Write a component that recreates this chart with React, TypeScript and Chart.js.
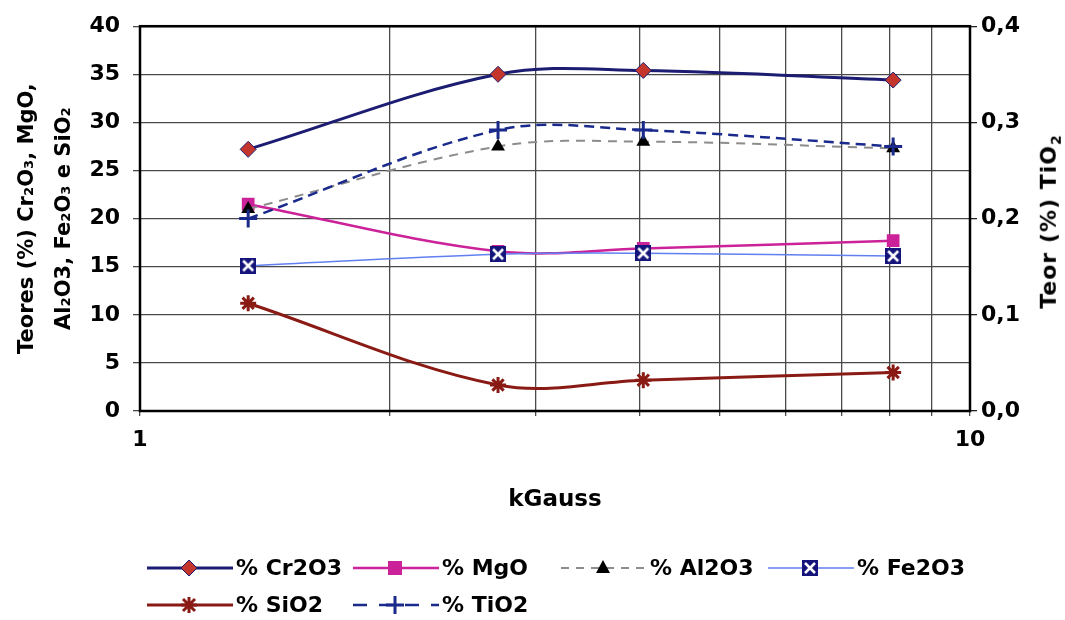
import React, { useEffect, useRef } from "react";
import { Chart, registerables } from "chart.js";

Chart.register(...registerables);

// ---- data ----
const kGauss = [1.35, 2.7, 4.04, 8.08];
const cr2o3 = [27.2, 35.0, 35.4, 34.4];
const mgo = [21.5, 16.6, 16.9, 17.7];
const al2o3 = [21.0, 27.5, 28.0, 27.3];
const fe2o3 = [15.1, 16.3, 16.4, 16.1];
const sio2 = [11.2, 2.7, 3.2, 4.0];
const tio2 = [0.2, 0.292, 0.292, 0.275];

const xTickValues = [1, 10];
const xTickLabels = ["1", "10"];
const rightTickLabels = ["0,0", "0,1", "0,2", "0,3", "0,4"];
const seriesNames = ["% Cr2O3", "% MgO", "% Al2O3", "% Fe2O3", "% SiO2", "% TiO2"];

const FAMILY = "'DejaVu Sans', 'Liberation Sans', sans-serif";

const C_CR_LINE = "#1c1c72";
const C_CR_MARK = "#c4362c";
const C_MG = "#cc2299";
const C_AL_LINE = "#8c8c8c";
const C_AL_MARK = "#000000";
const C_FE_LINE = "#6080f0";
const C_FE_MARK = "#14147a";
const C_SI = "#8a1a14";
const C_TI = "#1a2a8c";
const C_GRID = "#4a4a4a";

function makeXSquare(): HTMLCanvasElement {
  const c = document.createElement("canvas");
  c.width = 16;
  c.height = 16;
  const g = c.getContext("2d")!;
  g.fillStyle = C_FE_MARK;
  g.fillRect(0, 0, 16, 16);
  g.strokeStyle = "#ffffff";
  g.lineWidth = 2.6;
  g.beginPath();
  g.moveTo(3, 3);
  g.lineTo(13, 13);
  g.moveTo(13, 3);
  g.lineTo(3, 13);
  g.stroke();
  return c;
}

const framePlugin = {
  id: "frame",
  beforeDatasetsDraw(chart: any) {
    const { ctx, chartArea: a } = chart;
    ctx.save();
    ctx.strokeStyle = "#000";
    ctx.lineWidth = 2.5;
    ctx.strokeRect(a.left, a.top, a.right - a.left, a.bottom - a.top);
    ctx.restore();
  },
};

function Marker({ kind }: { kind: string }) {
  const cx = 42;
  const cy = 12;
  switch (kind) {
    case "diamond":
      return <polygon points={`${cx},${cy - 8} ${cx + 8},${cy} ${cx},${cy + 8} ${cx - 8},${cy}`} fill={C_CR_MARK} stroke={C_CR_LINE} strokeWidth={1} />;
    case "square":
      return <rect x={cx - 7} y={cy - 7} width={14} height={14} fill={C_MG} />;
    case "triangle":
      return <polygon points={`${cx},${cy - 8} ${cx + 7},${cy + 5} ${cx - 7},${cy + 5}`} fill={C_AL_MARK} />;
    case "xsquare":
      return (
        <g>
          <rect x={cx - 8} y={cy - 8} width={16} height={16} fill={C_FE_MARK} />
          <path d={`M${cx - 5} ${cy - 5} L${cx + 5} ${cy + 5} M${cx + 5} ${cy - 5} L${cx - 5} ${cy + 5}`} stroke="#fff" strokeWidth={2.6} />
        </g>
      );
    case "star":
      return (
        <path
          d={`M${cx} ${cy - 8} L${cx} ${cy + 8} M${cx - 8} ${cy} L${cx + 8} ${cy} M${cx - 6} ${cy - 6} L${cx + 6} ${cy + 6} M${cx + 6} ${cy - 6} L${cx - 6} ${cy + 6}`}
          stroke={C_SI}
          strokeWidth={3}
        />
      );
    case "plus":
      return <path d={`M${cx} ${cy - 9} L${cx} ${cy + 9} M${cx - 9} ${cy} L${cx + 9} ${cy}`} stroke={C_TI} strokeWidth={3} />;
    default:
      return null;
  }
}

function LegendItem({ left, top, color, width, dash, marker, label }: any) {
  return (
    <div style={{ position: "absolute", left, top, display: "flex", alignItems: "center", whiteSpace: "nowrap" }}>
      <svg width={86} height={24} style={{ display: "block" }}>
        <line x1={0} y1={12} x2={86} y2={12} stroke={color} strokeWidth={width} strokeDasharray={dash} />
        <Marker kind={marker} />
      </svg>
      <span style={{ marginLeft: 3, font: `bold 22px ${FAMILY}`, color: "#000", lineHeight: "24px" }}>{label}</span>
    </div>
  );
}

export default function App() {
  const ref = useRef<HTMLCanvasElement | null>(null);

  useEffect(() => {
    if (!ref.current) return;
    const xsq = makeXSquare();
    const pts = (ys: number[]) => kGauss.map((x, i) => ({ x, y: ys[i] }));
    const tickFont = { family: FAMILY, size: 22, weight: "bold" as const };

    const chart = new Chart(ref.current, {
      type: "line",
      data: {
        datasets: [
          {
            label: seriesNames[0],
            data: pts(cr2o3),
            borderColor: C_CR_LINE,
            borderWidth: 3,
            pointStyle: "rectRot",
            pointRadius: 8,
            pointBackgroundColor: C_CR_MARK,
            pointBorderColor: C_CR_LINE,
            pointBorderWidth: 1,
            yAxisID: "y",
            order: 6,
          },
          {
            label: seriesNames[1],
            data: pts(mgo),
            borderColor: C_MG,
            borderWidth: 2.5,
            pointStyle: "rect",
            pointRadius: 9,
            pointBackgroundColor: C_MG,
            pointBorderColor: C_MG,
            pointBorderWidth: 0,
            yAxisID: "y",
            order: 5,
          },
          {
            label: seriesNames[2],
            data: pts(al2o3),
            borderColor: C_AL_LINE,
            borderWidth: 2,
            borderDash: [9, 7],
            pointStyle: "triangle",
            pointRadius: 8,
            pointBackgroundColor: C_AL_MARK,
            pointBorderColor: C_AL_MARK,
            pointBorderWidth: 0,
            yAxisID: "y",
            order: 4,
          },
          {
            label: seriesNames[3],
            data: pts(fe2o3),
            borderColor: C_FE_LINE,
            borderWidth: 1.5,
            pointStyle: xsq,
            pointRadius: 8,
            yAxisID: "y",
            order: 3,
          },
          {
            label: seriesNames[4],
            data: pts(sio2),
            borderColor: C_SI,
            borderWidth: 3,
            pointStyle: "star",
            pointRadius: 8,
            pointBorderColor: C_SI,
            pointBackgroundColor: C_SI,
            pointBorderWidth: 3,
            yAxisID: "y",
            order: 2,
          },
          {
            label: seriesNames[5],
            data: pts(tio2),
            borderColor: C_TI,
            borderWidth: 2.5,
            borderDash: [10, 6],
            pointStyle: "cross",
            pointRadius: 9,
            pointBorderColor: C_TI,
            pointBorderWidth: 3,
            yAxisID: "y1",
            order: 1,
          },
        ],
      },
      options: {
        animation: false,
        responsive: false,
        maintainAspectRatio: false,
        layout: { padding: { top: 24, bottom: 106, left: 0, right: 0 } },
        elements: { line: { tension: 0.35, fill: false } },
        plugins: { legend: { display: false }, tooltip: { enabled: false } },
        scales: {
          x: {
            type: "logarithmic",
            min: 1,
            max: 10,
            position: "bottom",
            afterFit: (s: any) => {
              s.height = 103;
            },
            afterBuildTicks: (s: any) => {
              s.ticks = [1, 2, 3, 4, 5, 6, 7, 8, 9, 10].map((v) => ({ value: v }));
            },
            ticks: {
              autoSkip: false,
              maxRotation: 0,
              padding: 11,
              color: "#000",
              font: tickFont,
              callback: (v: any) => {
                const i = xTickValues.indexOf(Number(v));
                return i >= 0 ? xTickLabels[i] : "";
              },
            },
            grid: { color: C_GRID, lineWidth: 1.3, tickLength: 5 },
            border: { display: false },
            title: {
              display: true,
              text: "kGauss",
              color: "#000",
              font: { family: FAMILY, size: 23, weight: "bold" },
              padding: 0,
            },
          },
          y: {
            position: "left",
            min: 0,
            max: 40,
            afterFit: (s: any) => {
              s.width = 140;
            },
            ticks: { stepSize: 5, padding: 13, color: "#000", font: tickFont },
            grid: { color: C_GRID, lineWidth: 1.3, tickLength: 7 },
            border: { display: false },
            title: {
              display: true,
              text: ["Teores (%) Cr\u2082O\u2083, MgO,", "Al\u2082O3, Fe\u2082O\u2083 e SiO\u2082"],
              color: "#000",
              font: { family: FAMILY, size: 21, weight: "bold", lineHeight: 1.75 },
              padding: { top: 9, bottom: 0 },
            },
          },
          y1: {
            position: "right",
            min: 0,
            max: 0.4,
            afterFit: (s: any) => {
              s.width = 95;
            },
            ticks: {
              stepSize: 0.1,
              padding: 4,
              color: "#000",
              font: tickFont,
              callback: (_v: any, i: number) => rightTickLabels[i],
            },
            grid: { drawOnChartArea: false, color: "#222", lineWidth: 1.3, tickLength: 7 },
            border: { display: false },
          },
        },
      },
      plugins: [framePlugin],
    });
    return () => chart.destroy();
  }, []);

  return (
    <div style={{ position: "absolute", left: 0, top: 0, width: 1065, height: 620, background: "#fff", overflow: "hidden" }}>
      <canvas ref={ref} width={1065} height={620} style={{ position: "absolute", left: 0, top: 0, width: 1065, height: 620 }} />
      <div
        style={{
          position: "absolute",
          left: 1050,
          top: 222,
          transform: "translate(-50%, -50%) rotate(-90deg)",
          whiteSpace: "nowrap",
          font: `bold 22px ${FAMILY}`,
          letterSpacing: "1px",
          color: "#000",
        }}
      >
        Teor (%) TiO<sub style={{ fontSize: "14px", letterSpacing: 0 }}>2</sub>
      </div>
      <LegendItem left={147} top={556} color={C_CR_LINE} width={3} marker="diamond" label={seriesNames[0]} />
      <LegendItem left={353} top={556} color={C_MG} width={2.5} marker="square" label={seriesNames[1]} />
      <LegendItem left={561} top={556} color={C_AL_LINE} width={2} dash="8 7" marker="triangle" label={seriesNames[2]} />
      <LegendItem left={768} top={556} color={C_FE_LINE} width={1.5} marker="xsquare" label={seriesNames[3]} />
      <LegendItem left={147} top={593} color={C_SI} width={3} marker="star" label={seriesNames[4]} />
      <LegendItem left={353} top={593} color={C_TI} width={2.5} dash="14 12" marker="plus" label={seriesNames[5]} />
    </div>
  );
}
